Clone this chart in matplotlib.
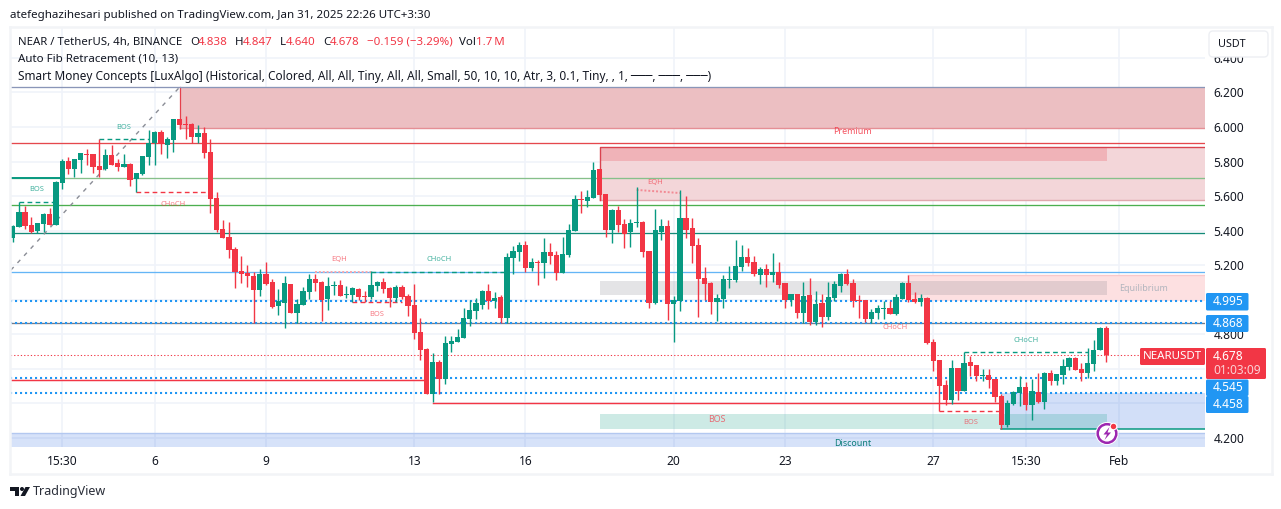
import matplotlib
matplotlib.use("Agg")
import matplotlib.pyplot as plt
from matplotlib.patches import Rectangle, Circle, Polygon, FancyBboxPatch

plt.rcParams['font.family'] = ['Noto Sans', 'DejaVu Sans']

# ---- candles (4h) ----
opens = [5.359,5.423,5.508,5.432,5.400,5.440,5.496,5.432,5.678,5.803,5.759,5.809,5.844,5.844,5.774,5.757,5.838,5.791,5.768,5.786,
5.701,5.728,5.826,5.905,5.971,5.898,5.925,6.046,6.015,6.017,5.942,5.965,5.855,5.589,5.409,5.363,5.293,5.166,5.155,5.137,
5.056,5.149,5.102,4.963,4.981,5.091,4.923,4.969,5.045,5.120,5.103,5.004,5.082,5.086,5.028,5.028,5.062,5.022,5.016,5.080,
5.103,5.068,5.010,5.074,5.022,4.970,4.813,4.715,4.454,4.640,4.541,4.744,4.756,4.779,4.889,4.935,4.970,5.051,4.993,5.016,
4.894,5.242,5.277,5.317,5.184,5.219,5.213,5.277,5.259,5.155,5.259,5.398,5.583,5.572,5.589,5.757,5.612,5.404,5.520,5.439,
5.392,5.446,5.450,5.282,4.981,5.392,5.427,4.975,4.993,5.473,5.415,5.317,5.126,5.097,4.987,5.004,5.116,5.114,5.190,5.248,
5.219,5.143,5.178,5.143,5.161,5.097,4.999,5.033,4.923,5.028,4.871,4.981,4.900,5.010,5.080,5.149,5.097,4.999,4.999,4.889,
4.923,4.948,4.952,4.917,5.004,5.097,5.004,4.987,5.010,4.755,4.651,4.506,4.419,4.605,4.472,4.639,4.622,4.558,4.564,4.541,
4.443,4.275,4.396,4.460,4.495,4.390,4.466,4.408,4.576,4.529,4.564,4.610,4.663,4.599,4.576,4.628,4.709,4.838]
highs = [5.432,5.568,5.542,5.479,5.444,5.500,5.531,5.687,5.813,5.826,5.815,5.849,5.872,5.844,5.928,5.872,5.896,5.815,5.844,5.791,
5.734,5.832,5.982,5.977,5.982,5.942,6.046,6.046,6.064,6.023,6.011,6.000,5.930,5.624,5.461,5.450,5.305,5.253,5.201,5.160,
5.178,5.218,5.120,5.062,5.137,5.091,5.004,5.073,5.149,5.149,5.109,5.132,5.109,5.114,5.080,5.074,5.068,5.051,5.167,5.109,
5.126,5.074,5.086,5.086,5.033,5.091,4.894,4.721,4.692,4.651,4.790,4.790,4.831,4.952,4.999,5.010,5.057,5.091,5.045,5.028,
5.271,5.311,5.335,5.340,5.242,5.230,5.358,5.329,5.282,5.363,5.439,5.607,5.630,5.635,5.798,5.757,5.612,5.525,5.543,5.468,
5.468,5.653,5.456,5.282,5.525,5.468,5.462,5.022,5.635,5.601,5.473,5.358,5.190,5.103,5.033,5.143,5.195,5.346,5.317,5.300,
5.253,5.190,5.207,5.271,5.219,5.097,5.033,5.033,5.103,5.126,5.051,5.033,5.103,5.109,5.155,5.178,5.120,5.028,4.999,4.946,
4.970,4.993,4.993,5.033,5.103,5.143,5.045,5.033,5.016,4.773,4.651,4.535,4.651,4.605,4.695,4.674,4.622,4.599,4.599,4.541,
4.454,4.419,4.472,4.558,4.524,4.541,4.576,4.582,4.593,4.570,4.657,4.668,4.668,4.634,4.720,4.767,4.842,4.847]
lows = [5.334,5.419,5.409,5.388,5.388,5.392,5.432,5.432,5.643,5.726,5.710,5.734,5.780,5.734,5.712,5.751,5.780,5.745,5.768,5.660,
5.624,5.722,5.780,5.780,5.844,5.820,5.855,5.988,5.930,5.907,5.905,5.820,5.502,5.392,5.357,5.241,5.068,5.097,5.073,4.863,
5.021,5.085,4.952,4.911,4.836,4.923,4.863,4.969,5.004,5.050,4.877,4.941,5.028,5.022,5.010,4.987,4.999,4.987,5.004,5.051,
5.039,4.958,4.987,5.004,4.906,4.773,4.651,4.454,4.406,4.454,4.512,4.698,4.756,4.779,4.848,4.889,4.947,4.947,4.952,4.864,
4.864,5.149,5.225,5.161,5.167,5.086,5.126,5.207,5.114,5.155,5.248,5.398,5.502,5.537,5.589,5.578,5.363,5.329,5.392,5.300,
5.305,5.421,5.248,4.952,4.975,5.346,4.883,4.755,4.935,5.358,5.213,4.900,4.999,4.918,4.877,4.952,5.068,5.103,5.167,5.195,
5.138,5.091,5.074,5.103,5.068,4.952,4.964,4.894,4.865,4.854,4.854,4.842,4.883,4.993,5.045,5.085,4.958,4.894,4.871,4.865,
4.889,4.888,4.917,4.912,5.002,4.987,4.981,4.964,4.744,4.587,4.356,4.390,4.396,4.419,4.472,4.558,4.529,4.529,4.489,4.408,
4.251,4.263,4.390,4.385,4.361,4.304,4.402,4.367,4.506,4.506,4.512,4.593,4.593,4.529,4.547,4.587,4.709,4.640]
closes = [5.429,5.508,5.429,5.392,5.444,5.496,5.432,5.683,5.803,5.757,5.815,5.849,5.840,5.768,5.751,5.838,5.780,5.768,5.786,5.693,
5.734,5.832,5.905,5.971,5.900,5.930,6.046,6.011,6.011,5.942,5.965,5.849,5.583,5.403,5.359,5.288,5.160,5.149,5.137,5.056,
5.149,5.091,4.958,4.992,5.097,4.923,4.975,5.050,5.120,5.097,4.999,5.080,5.086,5.022,5.033,5.068,5.016,5.018,5.086,5.103,
5.062,5.010,5.074,5.016,4.964,4.808,4.709,4.454,4.640,4.541,4.750,4.761,4.784,4.894,4.941,4.981,5.051,4.993,5.010,4.894,
5.248,5.282,5.317,5.184,5.219,5.215,5.277,5.253,5.155,5.265,5.404,5.583,5.580,5.595,5.751,5.607,5.404,5.520,5.433,5.381,
5.444,5.452,5.277,4.981,5.404,5.427,4.975,4.999,5.473,5.404,5.311,5.120,5.091,4.987,5.010,5.120,5.120,5.195,5.248,5.213,
5.149,5.178,5.143,5.161,5.085,4.999,5.033,4.923,5.022,4.871,4.975,4.900,5.016,5.091,5.149,5.091,4.993,4.993,4.889,4.929,
4.952,4.952,4.917,5.016,5.097,4.998,4.987,5.010,4.749,4.645,4.500,4.419,4.605,4.472,4.634,4.616,4.558,4.562,4.535,4.437,
4.275,4.400,4.466,4.495,4.390,4.472,4.408,4.576,4.529,4.570,4.616,4.663,4.593,4.576,4.634,4.709,4.838,4.678]

# ---- axis ----
price_ticks = [4.2, 4.4, 4.6, 4.8, 5.0, 5.2, 5.4, 5.6, 5.8, 6.0, 6.2, 6.4]
covered_ticks = [4.4, 4.6, 5.0]  # hidden behind the price badges
time_tick_pos = [8, 23, 41, 65, 83, 107, 125, 149, 164, 179]
time_tick_labels = ['15:30', '6', '9', '13', '16', '20', '23', '27', '15:30', 'Feb']

# ---- horizontal levels: price, colour ----
fib_prices = [6.230, 5.906, 5.707, 5.547, 5.384, 5.159, 4.864]
fib_colors = ['#8a96b8', '#e5484d', '#86c08a', '#4caf50', '#138a78', '#64b5f6', '#787b86']
dotted_levels = [4.995, 4.868, 4.545, 4.458]
last_price = 4.678

# ---- structure lines: start, end, price ----
teal_dashed = [(1, 7, 5.568), (14, 22, 5.929), (58, 80, 5.163), (154, 174, 4.696)]
red_dashed = [(20, 31.7, 5.622), (55, 63, 4.986), (150, 160, 4.356)]
red_solid = [(-1, 66.6, 4.534), (68, 160, 4.404)]
eqh_low = (49, 58, 5.162)
eqh_high = (101, 108, 5.636, 5.618)

labels_teal = [(3.8, 5.638, 'BOS'), (17.9, 6.000, 'BOS'), (69, 5.231, 'CHoCH'), (164, 4.767, 'CHoCH')]
labels_red = [(25.9, 5.552, 'CHoCH'), (52.8, 5.231, 'EQH'), (58.9, 4.916, 'BOS'), (104, 5.680, 'EQH'),
              (142.8, 4.837, 'CHoCH'), (155, 4.288, 'BOS')]

n = len(opens)
G, R = '#089981', '#f23645'
FW, FH = 1281, 509
fig = plt.figure(figsize=(FW / 100, FH / 100), dpi=100, facecolor='white')
ax = fig.add_axes([10 / FW, (FH - 447) / FH, 1195 / FW, 420 / FH])
ax.set_xlim(-0.44, 193.0)
ax.set_ylim(4.148, 6.579)
for s in ax.spines.values():
    s.set_visible(False)
ax.yaxis.tick_right()
ax.set_yticks(price_ticks)
ax.set_yticklabels(['' if p in covered_ticks else f'{p:.3f}' for p in price_ticks])
ax.set_xticks(time_tick_pos)
ax.set_xticklabels(time_tick_labels)
ax.tick_params(axis='both', length=0, labelsize=8.6, labelcolor='#131722')
ax.tick_params(axis='y', pad=6)
ax.tick_params(axis='x', pad=6)
ax.set_axisbelow(True)
ax.grid(True, color='#f0f3fa', lw=1.2)

right = 193.0
# zones
ax.add_patch(Rectangle((27, 5.995), right - 27, 6.230 - 5.995, fc='#ecbfc2', ec='none', zorder=1))
ax.plot([27, right], [5.995, 5.995], color='#e58f95', lw=1, zorder=1.2)
ax.plot([27, 27], [5.995, 6.230], color='#e5404c', lw=0.9, zorder=1.2)
ax.add_patch(Rectangle((95, 5.580), right - 95, 5.883 - 5.580, fc='#f3d6d9', ec='none', zorder=1))
ax.plot([95, right], [5.580, 5.580], color='#e0a8ad', lw=1, zorder=1.2)
ax.add_patch(Rectangle((95, 5.806), 177.2 - 95, 5.883 - 5.806, fc='#f0b3b8', ec='none', zorder=1.1))
ax.plot([95, 95, right], [5.580, 5.883, 5.883], color='#d9434f', lw=1, zorder=1.2)
ax.add_patch(Rectangle((145, 4.995), right - 145, 5.141 - 4.995, fc='#fde0e1', ec='none', zorder=1))
ax.plot([145, right], [5.141, 5.141], color='#f8c8cb', lw=1, zorder=1.2)
ax.add_patch(Rectangle((95, 5.0255), 177.2 - 95, 5.107 - 5.0255, fc='#787b86', alpha=0.2, ec='none', zorder=1.3))
ax.add_patch(Rectangle((160, 4.252), right - 160, 4.458 - 4.252, fc='#1f5fe0', alpha=0.2, ec='none', zorder=1))
ax.add_patch(Rectangle((95, 4.252), 177.2 - 95, 4.339 - 4.252, fc='#089981', alpha=0.2, ec='none', zorder=1.3))
ax.add_patch(Rectangle((-1, 4.148), right + 1, 4.230 - 4.148, fc='#1f5fe0', alpha=0.18, ec='none', zorder=1))
ax.plot([-1, right], [4.230, 4.230], color='#b3c8f0', lw=1, zorder=1.2)

# levels
for p, c in zip(fib_prices, fib_colors):
    ax.axhline(p, color=c, lw=0.95, zorder=2)
ax.plot([-1, 7.7], [5.707, 5.707], color=G, lw=1.4, zorder=2.1)
ax.plot([160, right], [4.252, 4.252], color=G, lw=1.1, zorder=2.1)
ax.plot([-0.3, 27], [5.172, 6.230], color='#8a8d96', lw=1, ls=(0, (3, 4)), zorder=2)
for p in dotted_levels:
    ax.axhline(p, color='#2196f3', lw=1.5, ls=(0, (1.0, 1.4)), zorder=2.2)
ax.plot([-1, right - 10.5], [last_price, last_price], color=R, lw=0.75, ls=(0, (1.2, 2)), zorder=2.2)

# structure
for a, b, p in teal_dashed:
    ax.plot([a, b], [p, p], color=G, lw=1, ls=(0, (3.4, 2.4)), zorder=2.5)
for a, b, p in red_dashed:
    ax.plot([a, b], [p, p], color=R, lw=1, ls=(0, (3.4, 2.4)), zorder=2.5)
for a, b, p in red_solid:
    ax.plot([a, b], [p, p], color=R, lw=1.05, zorder=2.5)
ax.plot(eqh_low[:2], [eqh_low[2], eqh_low[2]], color='#f7a6ad', lw=1.4, ls=(0, (1, 1)), zorder=2.5)
ax.plot(eqh_high[:2], eqh_high[2:], color='#f28a94', lw=1.4, ls=(0, (1, 1)), zorder=2.5)

# candles
xs = list(range(n))
cols = [G if c >= o else R for o, c in zip(opens, closes)]
ax.vlines(xs, lows, highs, colors=cols, lw=1.0, zorder=3)
bottoms = [min(o, c) for o, c in zip(opens, closes)]
heights = [max(abs(c - o), 0.004) for o, c in zip(opens, closes)]
ax.bar(xs, heights, bottom=bottoms, width=0.85, color=cols, lw=0, zorder=3.1)

# small labels
for x, y, t in labels_teal:
    ax.text(x, y, t, color=G, alpha=0.75, fontsize=5.4, ha='center', va='center', zorder=4)
for x, y, t in labels_red:
    ax.text(x, y, t, color=R, alpha=0.65, fontsize=5.4, ha='center', va='center', zorder=4)
ax.text(114, 4.309, 'BOS', color=R, alpha=0.7, fontsize=6.4, ha='center', va='center', zorder=4)
ax.text(136, 5.974, 'Premium', color=R, alpha=0.85, fontsize=6.4, ha='center', va='center', zorder=4)
ax.text(183, 5.066, 'Equilibrium', color='#b2b5be', fontsize=6.4, ha='center', va='center', zorder=4)
ax.text(136, 4.168, 'Discount', color='#0b7d78', fontsize=6.4, ha='center', va='center', zorder=4, clip_on=True)

# ---- overlay in pixels: page chrome ----
ov = fig.add_axes([0, 0, 1, 1], zorder=10)
ov.set_xlim(0, FW)
ov.set_ylim(FH, 0)
ov.axis('off')
ov.patch.set_alpha(0)

for xa, ya, xb, yb in [(9.5, 27, 1271.5, 27), (9.5, 474, 1271.5, 474), (9.5, 27, 9.5, 474), (1271.5, 27, 1271.5, 474)]:
    ov.plot([xa, xb], [ya, yb], color='#f2f4f7', lw=1.8)

ov.text(10, 15, 'atefeghazihesari published on TradingView.com, Jan 31, 2025 22:26 UTC+3:30',
        fontsize=8.3, color='#131722', va='center')
DK = '#131722'
ov.text(18, 42, 'NEAR / TetherUS, 4h, BINANCE', fontsize=8.2, color=DK, va='center')
legend_parts = [(190, 'O', DK), (198, '4.838', R), (235, 'H', DK), (243, '4.847', R), (280, 'L', DK), (286, '4.640', R),
                (323, 'C', DK), (330, '4.678', R), (367, '\u22120.159 (\u22123.29%)', R), (459, 'Vol', DK), (476, '1.7\u2009M', R)]
for x, t, c in legend_parts:
    ov.text(x, 42, t, fontsize=8.3, color=c, va='center')
ov.text(18, 59, 'Auto Fib Retracement (10, 13)', fontsize=8.3, color=DK, va='center')
ov.text(18, 76, 'Smart Money Concepts [LuxAlgo] (Historical, Colored, All, All, Tiny, All, All, Small, 50, 10, 10, Atr, 3, 0.1, Tiny, , 1, \u2500\u2500\u2500, \u2500\u2500\u2500, \u2500\u2500\u2500)',
        fontsize=8.5, color=DK, va='center')

ov.add_patch(FancyBboxPatch((1209, 31), 59, 26, boxstyle='round,pad=0,rounding_size=4', fc='white', ec='#edeff3', lw=1))
ov.text(1232, 44.5, 'USDT', fontsize=7.8, color=DK, ha='center', va='center')


def badge(x0, y0, x1, y1, col):
    ov.add_patch(FancyBboxPatch((x0, y0), x1 - x0, y1 - y0, boxstyle='round,pad=0,rounding_size=1.5', fc=col, ec='none'))


BL = '#2196f3'
for txt, y0, y1 in [('4.995', 293, 310.5), ('4.868', 315, 332), ('4.545', 379.5, 396), ('4.458', 396, 413)]:
    badge(1206, y0, 1248.5, y1, BL)
    ov.text(1213, (y0 + y1) / 2, txt, fontsize=8.6, color='white', va='center', fontweight='medium')
badge(1140, 348, 1205, 365, R)
ov.text(1172.5, 356.5, 'NEARUSDT', fontsize=8.3, color='white', ha='center', va='center')
badge(1206, 348, 1266, 379, R)
ov.text(1213, 356.5, '4.678', fontsize=8.6, color='white', va='center')
ov.text(1213, 370.5, '01:03:09', fontsize=8.6, color='#fbd0d4', va='center')

# lightning icon
ov.add_patch(Circle((1107, 433.5), 11.5, fc='white', ec='none'))
ov.add_patch(Circle((1107, 433.5), 9.3, fc='white', ec='#9c27b0', lw=1.8))
ov.add_patch(Polygon([(1109.5, 427), (1103.5, 434.5), (1107, 434.5), (1104.5, 440), (1111, 432.5), (1107.5, 432.5)], fc='#9c27b0', ec='none'))
ov.add_patch(Circle((1113.5, 426.5), 3.8, fc='white', ec='none'))
ov.add_patch(Circle((1113.5, 426.5), 2.7, fc=R, ec='none'))

# TradingView logo
ov.add_patch(Polygon([(10, 487), (19, 487), (19, 496), (14.5, 496), (14.5, 491), (10, 491)], fc=DK, ec='none'))
ov.add_patch(Circle((22, 489), 2, fc=DK, ec='none'))
ov.add_patch(Polygon([(25.5, 487), (30, 487), (25, 496), (20.5, 496)], fc=DK, ec='none'))
ov.text(33, 491.5, 'TradingView', fontsize=9, color='#2a2e39', va='center')

fig.savefig('out.png', dpi=100, facecolor='white')
